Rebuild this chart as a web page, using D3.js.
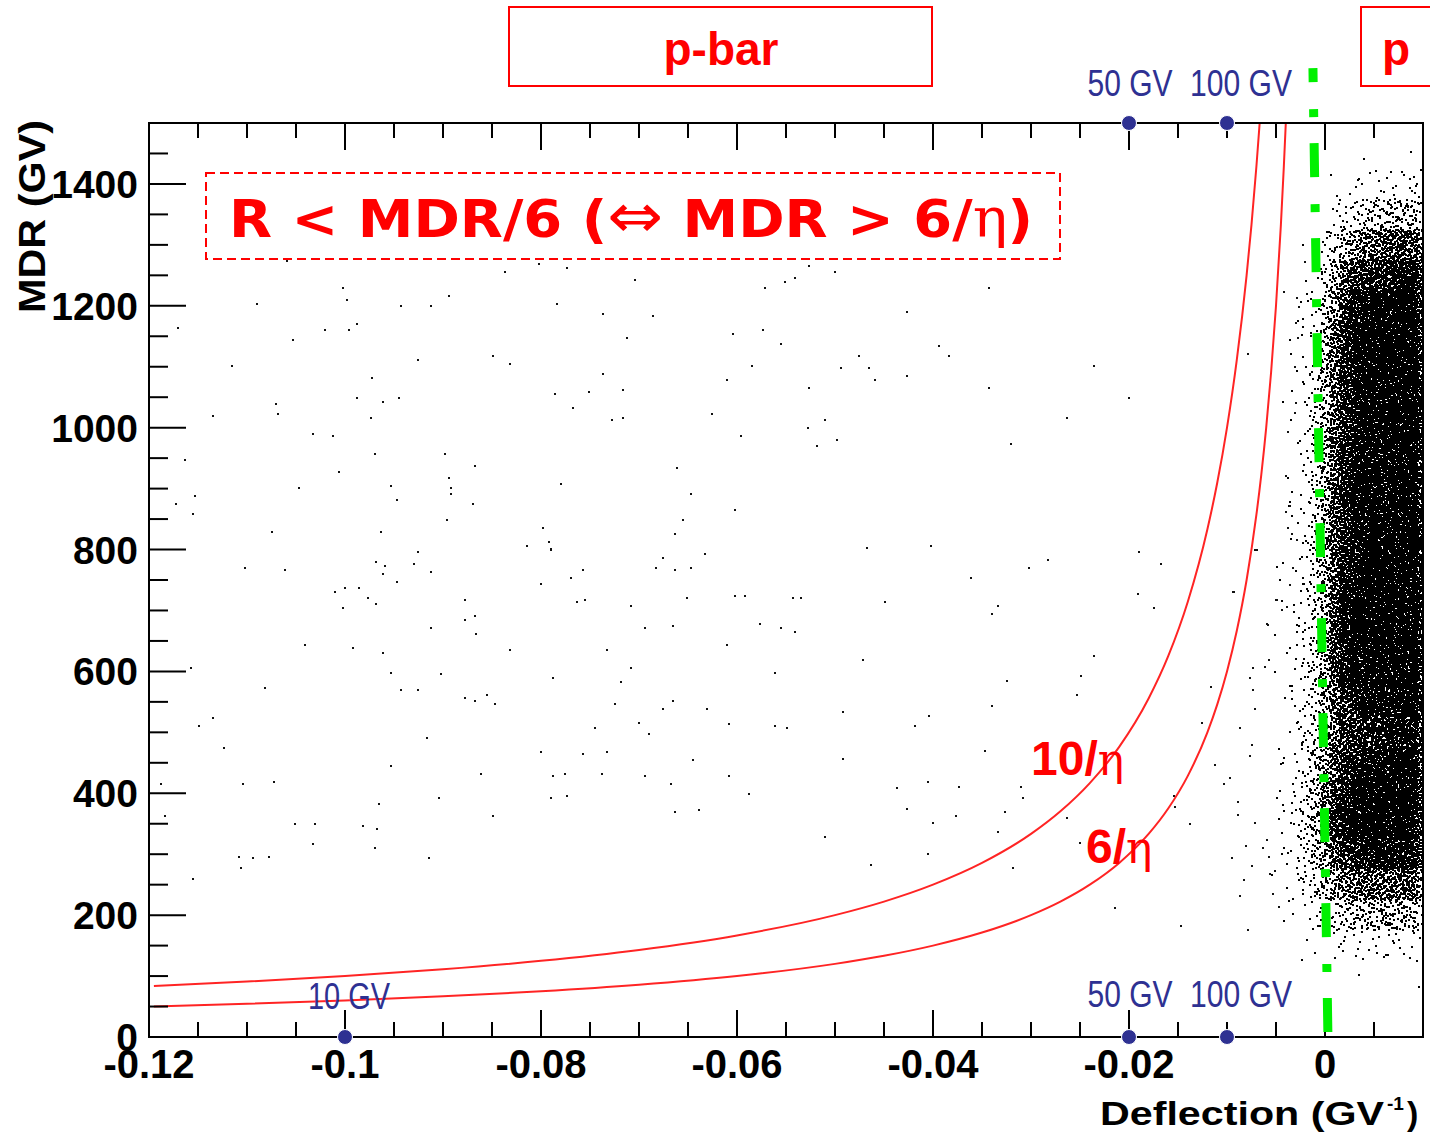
<!DOCTYPE html>
<html>
<head>
<meta charset="utf-8">
<script src="https://cdn.jsdelivr.net/npm/d3@7"></script>
<style>
  html, body { margin: 0; padding: 0; background: #fff; }
  svg { display: block; }
</style>
</head>
<body>
<svg id="chart" width="1430" height="1139"></svg>
<script>
// ---------- data ----------
const xDomain = [-0.12, 0.01];          // deflection (GV^-1)
const yDomain = [0, 1500];              // MDR (GV)

const xMajorTicks = [-0.12, -0.10, -0.08, -0.06, -0.04, -0.02, 0];
const xTickLabels = ["-0.12", "-0.1", "-0.08", "-0.06", "-0.04", "-0.02", "0"];
const yMajorTicks = [0, 200, 400, 600, 800, 1000, 1200, 1400];
const yTickLabels = ["0", "200", "400", "600", "800", "1000", "1200", "1400"];

// isolated events: [deflection, MDR]
const scatterPoints = [
  [-0.1059,1274],[-0.0802,1268],[-0.0773,1262],[-0.0837,1255],[-0.0704,1242],[-0.1002,1229],[-0.0894,1216],[-0.0998,1209],
  [-0.1090,1203],[-0.0943,1200],[-0.0912,1200],[-0.0784,1203],[-0.0737,1186],[-0.0686,1183],[-0.1170,1163],[-0.1020,1160],
  [-0.0996,1160],[-0.0988,1170],[-0.0712,1147],[-0.1053,1144],[-0.1115,1101],[-0.0925,1111],[-0.0849,1117],[-0.0832,1104],
  [-0.0972,1081],[-0.0737,1088],[-0.0716,1062],[-0.0751,1058],[-0.0786,1055],[-0.0988,1049],[-0.0945,1049],[-0.0961,1042],
  [-0.1070,1039],[-0.1068,1022],[-0.1135,1019],[-0.0973,1016],[-0.0767,1032],[-0.0728,1012],[-0.0716,1016],[-0.1033,990],
  [-0.1012,986],[-0.1163,947],[-0.0969,957],[-0.0898,957],[-0.0867,937],[-0.0661,934],[-0.1006,927],[-0.0894,917],
  [-0.0892,901],[-0.0892,891],[-0.0953,904],[-0.1047,901],[-0.0780,907],[-0.0647,891],[-0.1153,888],[-0.1172,875],
  [-0.0947,881],[-0.0869,875],[-0.1155,858],[-0.0896,848],[-0.0655,848],[-0.1075,829],[-0.0963,829],[-0.0798,835],
  [-0.0663,825],[-0.0792,812],[-0.0814,806],[-0.0790,801],[-0.0790,799],[-0.0926,796],[-0.0675,786],[-0.0633,793],
  [-0.0968,779],[-0.0959,773],[-0.0930,776],[-0.1102,770],[-0.1061,766],[-0.0912,763],[-0.0961,760],[-0.0757,766],
  [-0.0683,770],[-0.0663,766],[-0.0647,770],[-0.0769,753],[-0.0947,747],[-0.0800,743],[-0.1010,730],[-0.1000,737],
  [-0.0986,737],[-0.0977,720],[-0.0968,710],[-0.1002,704],[-0.0878,717],[-0.0763,714],[-0.0755,717],[-0.0651,720],
  [-0.0708,707],[-0.0878,684],[-0.0867,691],[-0.0912,671],[-0.0866,661],[-0.0694,671],[-0.0665,674],
  [-0.0527,1265],[-0.0500,1255],[-0.0551,1239],[-0.0541,1246],[-0.0571,1229],[-0.0343,1229],[-0.0427,1190],[-0.0604,1154],
  [-0.0573,1160],[-0.0555,1137],[-0.0394,1134],[-0.0384,1118],[-0.0475,1118],[-0.0585,1101],[-0.0494,1098],[-0.0465,1098],
  [-0.0459,1078],[-0.0427,1085],[-0.0610,1078],[-0.0527,1065],[-0.0343,1065],[-0.0236,1101],[-0.0200,1049],[-0.0626,1022],
  [-0.0510,1012],[-0.0263,1016],[-0.0596,986],[-0.0528,999],[-0.0498,980],[-0.0518,970],[-0.0320,973],[-0.0079,1121],
  [-0.0042,1223],[-0.0602,865],[-0.0467,802],[-0.0402,806],[-0.0190,796],[-0.0167,776],[-0.0283,783],[-0.0302,770],
  [-0.0361,753],[-0.0602,724],[-0.0592,724],[-0.0543,720],[-0.0535,720],[-0.0449,714],[-0.0334,707],[-0.0340,694],
  [-0.0577,678],[-0.0555,671],[-0.0541,665],[-0.0191,727],[-0.0175,704],[-0.0093,730],[-0.0059,678],[-0.0071,799],
  [-0.0038,993],[-0.0040,921],[-0.0036,871],[-0.0040,862],[-0.0034,825],[-0.0038,835],[-0.0050,717],[-0.0044,701],
  [-0.1041,644],[-0.0992,638],[-0.0961,631],[-0.0832,635],[-0.0733,635],[-0.1157,605],[-0.0953,598],[-0.0902,595],
  [-0.0788,589],[-0.0708,605],[-0.0718,582],[-0.1082,572],[-0.0943,569],[-0.0925,569],[-0.0878,556],[-0.0867,552],
  [-0.0855,562],[-0.0847,546],[-0.0724,546],[-0.0665,552],[-0.0675,539],[-0.0631,539],[-0.1135,523],[-0.1149,510],
  [-0.0700,516],[-0.0745,507],[-0.0690,497],[-0.1123,474],[-0.0916,490],[-0.0800,467],[-0.0757,464],[-0.0733,467],
  [-0.0645,454],[-0.0953,444],[-0.1188,415],[-0.1104,415],[-0.1072,418],[-0.0861,431],[-0.0788,428],[-0.0776,431],
  [-0.0738,431],[-0.0694,428],[-0.0667,415],[-0.0904,392],[-0.0790,392],[-0.0773,395],[-0.0965,382],[-0.0663,369],
  [-0.0639,372],[-0.0849,362],[-0.1184,362],[-0.1051,349],[-0.1031,349],[-0.0982,346],[-0.0967,342],[-0.1033,316],
  [-0.0969,310],[-0.0914,293],[-0.1108,296],[-0.1094,293],[-0.1078,296],[-0.1106,277],[-0.1155,260],
  [-0.0610,644],[-0.0471,618],[-0.0236,625],[-0.0561,598],[-0.0249,592],[-0.0324,585],[-0.0253,562],[-0.0492,533],
  [-0.0340,543],[-0.0404,526],[-0.0608,513],[-0.0561,510],[-0.0549,507],[-0.0418,510],[-0.0347,470],[-0.0492,457],
  [-0.0608,428],[-0.0588,398],[-0.0437,408],[-0.0405,418],[-0.0373,411],[-0.0310,411],[-0.0308,392],[-0.0427,375],
  [-0.0327,369],[-0.0377,362],[-0.0400,352],[-0.0263,359],[-0.0334,336],[-0.0510,329],[-0.0250,319],[-0.0405,300],
  [-0.0463,283],[-0.0318,277],[-0.0214,211],[-0.0147,182],[-0.0079,175],[-0.0116,575],[-0.0126,516],[-0.0112,447],
  [-0.0154,395],[-0.0153,378],[-0.0138,349],[-0.0087,507],[-0.0075,480],[-0.0077,461],[-0.0097,425],[-0.0103,415],
  [-0.0073,605],[-0.0077,589],[-0.0061,608],[-0.0057,618],[-0.0073,569],[-0.0071,539],[-0.0089,385],[-0.0089,365],
  [-0.0095,293],[-0.0087,231],[-0.0083,257],[-0.0081,313],[-0.0075,280],[-0.0071,352],[-0.0063,310],[-0.0059,323],
  [-0.0057,296],[-0.0053,234],[-0.0047,214],[-0.0051,273],[-0.0056,267],
  [-0.0094,731],[-0.0049,717],[-0.0039,706],[-0.0036,742],[-0.0029,816],[-0.0033,770],[-0.0058,676],[-0.0069,799],
  [-0.0020,1272],[-0.0029,1213],[-0.0027,1198],[-0.0030,1172],[-0.0028,1147],[-0.0031,1100],[-0.0030,1040],[-0.0031,1024]
];

// dense population near zero deflection: event counts per (MDR row, deflection column) cell
const cloudDeflectionBins = [-0.005,-0.004,-0.003,-0.002,-0.001,0,0.001,0.002,0.003,0.004,0.005,0.006,0.007,0.008,0.009];
const cloudBinWidth = 0.001;
const cloudMDRBins = [1400,1350,1300,1250,1200,1150,1100,1050,1000,950,900,850,800,750,700,650,600,550,500,450,400,350,300,250,200,150,100];
const cloudBinHeight = 50;
const cloudCounts = [
  [0,0,0,0,0,0,0,0,1,1,1,0,1,1,1],
  [0,0,0,0,0,1,2,3,4,5,6,6,7,8,8],
  [0,0,0,0,1,4,8,14,22,30,36,40,44,44,44],
  [0,0,0,1,3,12,30,55,75,95,105,110,115,120,120],
  [0,0,1,3,7,24,60,100,125,145,155,160,165,170,170],
  [0,0,2,4,12,35,85,130,155,170,180,185,190,190,190],
  [0,1,2,5,16,45,95,140,165,180,190,195,195,195,195],
  [0,1,2,5,18,50,100,145,170,185,195,200,200,200,200],
  [0,1,2,5,18,50,100,145,170,185,195,200,200,200,200],
  [0,1,2,5,18,50,100,145,170,185,195,200,200,200,200],
  [0,1,2,6,20,55,105,150,175,190,200,200,200,200,200],
  [0,1,3,6,20,55,105,150,175,190,200,200,200,200,200],
  [1,1,3,8,22,60,110,155,180,195,200,200,200,200,200],
  [1,1,3,8,20,55,105,155,180,195,205,205,205,205,205],
  [1,1,3,8,18,50,105,160,190,205,210,210,210,210,210],
  [1,2,4,9,20,55,115,165,195,210,215,215,215,215,215],
  [1,2,4,10,22,60,115,165,190,205,210,210,210,210,210],
  [1,2,4,10,22,55,100,140,160,175,180,180,180,180,180],
  [1,2,4,10,20,45,80,100,105,110,115,120,125,130,130],
  [1,2,5,12,25,50,80,100,110,115,120,130,140,150,155],
  [2,3,6,15,32,65,110,150,170,185,195,200,205,205,205],
  [2,3,8,18,42,80,125,165,185,200,205,210,210,210,210],
  [2,3,8,18,40,75,115,150,170,180,185,190,190,190,190],
  [2,3,6,12,24,45,68,85,95,100,105,105,105,105,105],
  [1,2,3,6,12,20,28,34,40,44,46,46,46,46,46],
  [0,0,1,1,2,4,5,6,7,7,7,7,7,7,7],
  [0,0,0,0,0,0,1,0,1,0,1,0,1,0,1]
];

// acceptance curves MDR = k / |deflection|
const curve10 = { label: "10", deflection: [-0.1195,-0.11,-0.10,-0.09,-0.08,-0.07,-0.06,-0.05,-0.045,-0.04,-0.035,-0.03,-0.027,-0.024,-0.021,-0.018,-0.016,-0.014,-0.012,-0.011,-0.010,-0.009,-0.008,-0.0075,-0.007,-0.00667],
  mdr: [83.7,90.9,100,111.1,125,142.9,166.7,200,222.2,250,285.7,333.3,370.4,416.7,476.2,555.6,625,714.3,833.3,909.1,1000,1111.1,1250,1333.3,1428.6,1499.3] };
const curve6 = { label: "6", deflection: [-0.1195,-0.11,-0.10,-0.09,-0.08,-0.07,-0.06,-0.05,-0.045,-0.04,-0.035,-0.03,-0.027,-0.024,-0.021,-0.018,-0.016,-0.014,-0.012,-0.011,-0.010,-0.009,-0.008,-0.007,-0.0065,-0.006,-0.0055,-0.005,-0.0045,-0.0042,-0.004],
  mdr: [50.2,54.5,60,66.7,75,85.7,100,120,133.3,150,171.4,200,222.2,250,285.7,333.3,375,428.6,500,545.5,600,666.7,750,857.1,923.1,1000,1090.9,1200,1333.3,1428.6,1500] };

// zero-deflection guide: [deflection, MDR]
const zeroGuide = [[-0.00123, 1590], [0.0003, 0]];

// rigidity markers (deflection = -1/R)
const rigidityMarkers = [
  { label: "10 GV",  rigidity: 10,  edge: "bottom" },
  { label: "50 GV",  rigidity: 50,  edge: "bottom" },
  { label: "100 GV", rigidity: 100, edge: "bottom" },
  { label: "50 GV",  rigidity: 50,  edge: "top" },
  { label: "100 GV", rigidity: 100, edge: "top" }
];

// ---------- layout ----------
const W = 1430, H = 1139;
const plot = { left: 149, right: 1423, top: 123, bottom: 1037 };
const SANS = "'Liberation Sans', Arial, Helvetica, sans-serif";
const RED = "#ff0000";
const BLUE = "#2e3192";

const x = d3.scaleLinear().domain(xDomain).range([plot.left, plot.right]);
const y = d3.scaleLinear().domain(yDomain).range([plot.bottom, plot.top]);

const svg = d3.select("#chart");
svg.append("rect").attr("width", W).attr("height", H).attr("fill", "#fff");

svg.append("defs").append("clipPath").attr("id", "plot-clip")
  .append("rect")
  .attr("x", plot.left).attr("y", plot.top)
  .attr("width", plot.right - plot.left).attr("height", plot.bottom - plot.top);

const plotArea = svg.append("g").attr("clip-path", "url(#plot-clip)");

// dense cloud: events spread over each cell with a Halton low-discrepancy sequence;
// a spread of 2 cells makes neighbouring cells blend evenly
function halton(i, base) {
  let f = 1, r = 0;
  while (i > 0) { f /= base; r += f * (i % base); i = Math.floor(i / base); }
  return r;
}
let seq = 1, cloudPath = "";
const spread = 2;
cloudMDRBins.forEach((m0, ri) => {
  cloudDeflectionBins.forEach((e0, ci) => {
    const n = cloudCounts[ri][ci];
    for (let k = 0; k < n; k++, seq++) {
      const u = halton(seq, 2), v = halton(seq, 3);
      const e = e0 + cloudBinWidth * (0.5 + (u - 0.5) * spread);
      const m = m0 + cloudBinHeight * (0.5 + (v - 0.5) * spread);
      const px = Math.round(x(e)) - 1, py = Math.round(y(m)) - 1;
      cloudPath += `M${px},${py}h2v2h-2z`;
    }
  });
});
plotArea.append("path").attr("d", cloudPath).attr("fill", "#000")
  .attr("shape-rendering", "crispEdges");

// isolated events
plotArea.selectAll("rect.event").data(scatterPoints).join("rect")
  .attr("class", "event")
  .attr("x", d => Math.round(x(d[0])) - 1)
  .attr("y", d => Math.round(y(d[1])) - 1)
  .attr("width", 2).attr("height", 2)
  .attr("fill", "#111")
  .attr("shape-rendering", "crispEdges");

// acceptance curves
const curveLine = d3.line().x(d => x(d[0])).y(d => y(d[1])).curve(d3.curveMonotoneX);
[curve10, curve6].forEach(c => {
  plotArea.append("path")
    .datum(c.deflection.map((e, i) => [e, c.mdr[i]]))
    .attr("d", curveLine)
    .attr("fill", "none")
    .attr("stroke", "#ff2424")
    .attr("stroke-width", 2);
});

// ---------- axes ----------
const xMinorTicks = d3.range(-0.12, 0.0101, 0.005).filter(v => Math.abs(v / 0.02 - Math.round(v / 0.02)) > 1e-6);
const yMinorTicks = d3.range(0, 1501, 50).filter(v => v % 200 !== 0);

function styleAxis(g) {
  g.select(".domain").remove();
  g.selectAll(".tick line").attr("stroke", "#000").attr("stroke-width", 2);
}

// bottom
svg.append("g").attr("transform", `translate(0,${plot.bottom})`)
  .call(d3.axisBottom(x).tickValues(xMinorTicks).tickSizeInner(-15).tickSizeOuter(0).tickFormat("").offset(0))
  .call(styleAxis);
const bottomMajor = svg.append("g").attr("transform", `translate(0,${plot.bottom})`)
  .call(d3.axisBottom(x).tickValues(xMajorTicks).tickSizeInner(-27).tickSizeOuter(0)
    .tickFormat((d, i) => xTickLabels[i]).offset(0))
  .call(styleAxis);
bottomMajor.selectAll(".tick text")
  .attr("y", 41).attr("dy", null)
  .attr("fill", "#000")
  .style("font-family", SANS).style("font-weight", "bold").style("font-size", "40px");

// top
svg.append("g").attr("transform", `translate(0,${plot.top})`)
  .call(d3.axisTop(x).tickValues(xMinorTicks).tickSizeInner(-15).tickSizeOuter(0).tickFormat("").offset(0))
  .call(styleAxis);
svg.append("g").attr("transform", `translate(0,${plot.top})`)
  .call(d3.axisTop(x).tickValues(xMajorTicks).tickSizeInner(-27).tickSizeOuter(0).tickFormat("").offset(0))
  .call(styleAxis);

// left
svg.append("g").attr("transform", `translate(${plot.left},0)`)
  .call(d3.axisLeft(y).tickValues(yMinorTicks).tickSizeInner(-19).tickSizeOuter(0).tickFormat("").offset(0))
  .call(styleAxis);
const leftMajor = svg.append("g").attr("transform", `translate(${plot.left},0)`)
  .call(d3.axisLeft(y).tickValues(yMajorTicks).tickSizeInner(-37).tickSizeOuter(0)
    .tickFormat((d, i) => yTickLabels[i]).offset(0))
  .call(styleAxis);
leftMajor.selectAll(".tick text")
  .attr("x", -11).attr("dy", "0.36em")
  .attr("fill", "#000")
  .style("font-family", SANS).style("font-weight", "bold").style("font-size", "39px");

// frame
svg.append("rect")
  .attr("x", plot.left).attr("y", plot.top)
  .attr("width", plot.right - plot.left).attr("height", plot.bottom - plot.top)
  .attr("fill", "none").attr("stroke", "#000").attr("stroke-width", 2);

// axis titles
const xTitle = svg.append("g").style("font-family", SANS).style("font-weight", "bold").attr("fill", "#000");
xTitle.append("text").attr("x", 1100).attr("y", 1125).style("font-size", "34px")
  .attr("textLength", 284).attr("lengthAdjust", "spacingAndGlyphs").text("Deflection (GV");
xTitle.append("text").attr("x", 1387).attr("y", 1110).style("font-size", "19px")
  .attr("textLength", 17).attr("lengthAdjust", "spacingAndGlyphs").text("-1");
xTitle.append("text").attr("x", 1407).attr("y", 1125).style("font-size", "34px").text(")");

svg.append("text")
  .attr("transform", "translate(45,313) rotate(-90)")
  .style("font-family", SANS).style("font-weight", "bold").style("font-size", "36px")
  .attr("textLength", 193).attr("lengthAdjust", "spacingAndGlyphs")
  .attr("fill", "#000")
  .text("MDR (GV)");

// zero-deflection guide
svg.append("path")
  .datum(zeroGuide)
  .attr("d", d3.line().x(d => x(d[0])).y(d => y(d[1])))
  .attr("fill", "none")
  .attr("stroke", "#00f000")
  .attr("stroke-width", 9)
  .attr("stroke-dasharray", "34,27,8,26")
  .attr("stroke-dashoffset", 20);

// rigidity markers
const labelShift = { 10: 4, 50: 1, 100: 14 };
const labelWidth = { 10: 82, 50: 85, 100: 102 };
const markers = svg.append("g");
rigidityMarkers.forEach(mk => {
  const e = -1 / mk.rigidity;
  const cx = x(e);
  const cy = mk.edge === "top" ? y(yDomain[1]) : y(yDomain[0]);
  markers.append("circle").attr("cx", cx).attr("cy", cy).attr("r", 7.5)
    .attr("fill", BLUE).attr("stroke", "#fff").attr("stroke-width", 1);
  const w = labelWidth[mk.rigidity];
  markers.append("text")
    .attr("x", cx + labelShift[mk.rigidity] - w / 2)
    .attr("y", mk.edge === "top" ? 96 : (mk.rigidity === 10 ? 1009 : 1007))
    .attr("textLength", w).attr("lengthAdjust", "spacingAndGlyphs")
    .style("font-family", "'Liberation Sans Narrow', " + SANS).style("font-size", "36px")
    .attr("fill", BLUE)
    .text(mk.label);
});

// curve labels
function curveLabel(xPos, yPos, num) {
  const t = svg.append("text").attr("x", xPos).attr("y", yPos).attr("fill", RED);
  t.append("tspan").style("font-family", SANS).style("font-weight", "bold").style("font-size", "48px").text(num + "/");
  t.append("tspan").style("font-family", "'DejaVu Serif', serif").style("font-size", "44px").text("η");
}
curveLabel(1031, 775, curve10.label);
curveLabel(1086, 863, curve6.label);

// selection condition box
svg.append("rect").attr("x", 206).attr("y", 173).attr("width", 854).attr("height", 86)
  .attr("fill", "#fff").attr("stroke", RED).attr("stroke-width", 2).attr("stroke-dasharray", "9,5");
const cond = svg.append("text").attr("x", 229).attr("y", 237)
  .style("font-family", "'DejaVu Sans', Verdana, sans-serif").style("font-weight", "bold").style("font-size", "52px")
  .attr("textLength", 804).attr("lengthAdjust", "spacingAndGlyphs")
  .attr("fill", RED);
cond.append("tspan").text("R < MDR/6 (");
cond.append("tspan").style("font-size", "62px").style("font-weight", "normal").text("⇔");
cond.append("tspan").text(" MDR > 6/");
cond.append("tspan").style("font-family", "'DejaVu Serif', serif").style("font-weight", "normal").style("font-size", "54px").text("η");
cond.append("tspan").text(")");

// charge-sign boxes
svg.append("rect").attr("x", 509).attr("y", 7).attr("width", 423).attr("height", 79)
  .attr("fill", "#fff").attr("stroke", RED).attr("stroke-width", 2);
svg.append("text").attr("x", 721).attr("y", 65).attr("text-anchor", "middle")
  .style("font-family", SANS).style("font-weight", "bold").style("font-size", "46px")
  .attr("fill", RED).text("p-bar");
svg.append("rect").attr("x", 1361).attr("y", 7).attr("width", 120).attr("height", 79)
  .attr("fill", "#fff").attr("stroke", RED).attr("stroke-width", 2);
svg.append("text").attr("x", 1382).attr("y", 65)
  .style("font-family", SANS).style("font-weight", "bold").style("font-size", "46px")
  .attr("fill", RED).text("p");
</script>
</body>
</html>
